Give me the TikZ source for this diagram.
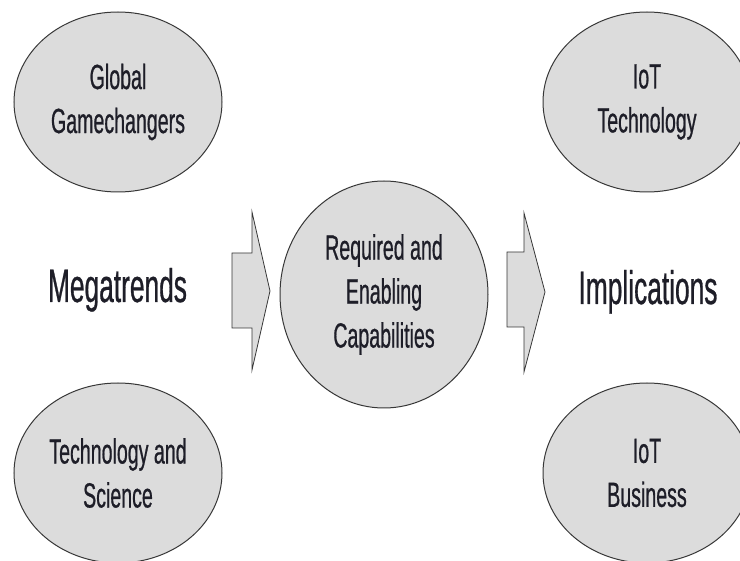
\documentclass[tikz,border=0pt]{standalone}
\usepackage{fontspec}
\setmainfont{Liberation Sans}
\newfontfamily\narrowfont[FakeStretch=0.56,FakeBold=0.6]{Liberation Sans}
\usetikzlibrary{shapes.geometric}
\definecolor{bubblefill}{RGB}{220,220,220}
\definecolor{edgegray}{RGB}{55,55,55}
\definecolor{inkcol}{RGB}{30,30,40}
\tikzset{
  bubble/.style={ellipse, draw=edgegray, line width=1pt, fill=bubblefill,
    inner sep=0pt, minimum width=208pt, minimum height=180pt,
    align=center, text=inkcol, font=\narrowfont\fontsize{35}{44}\selectfont},
  bigword/.style={anchor=base, inner sep=0pt, text=inkcol,
    font=\narrowfont\fontsize{47}{56}\selectfont},
  blockarrow/.style={draw=edgegray, line width=0.8pt, fill=bubblefill, line join=miter}
}
\begin{document}
\begin{tikzpicture}[x=1pt,y=-1pt]
\useasboundingbox (0,0) rectangle (740,561);
\node[bubble] (gg) at (118,102) {Global\\Gamechangers};
\node[bubble] (ts) at (118,473) {Technology and\\Science};
\node[bubble] (it) at (647,102) {IoT\\Technology};
\node[bubble] (ib) at (647,473) {IoT\\Business};
\node[bubble, minimum height=227pt] (rc) at (384,294.5) {Required and\\Enabling\\Capabilities};
\node[bigword] (mt) at (117.5,302) {Megatrends};
\node[bigword] (im) at (648,304) {Implications};
\draw[blockarrow] (232,253) -- (252,253) -- (252,212) -- (270,291) -- (252,370) -- (252,328) -- (232,328) -- cycle;
\draw[blockarrow] (507,252) -- (524,252) -- (524,213) -- (545,292) -- (524,372) -- (524,327) -- (507,327) -- cycle;
\end{tikzpicture}
\end{document}
